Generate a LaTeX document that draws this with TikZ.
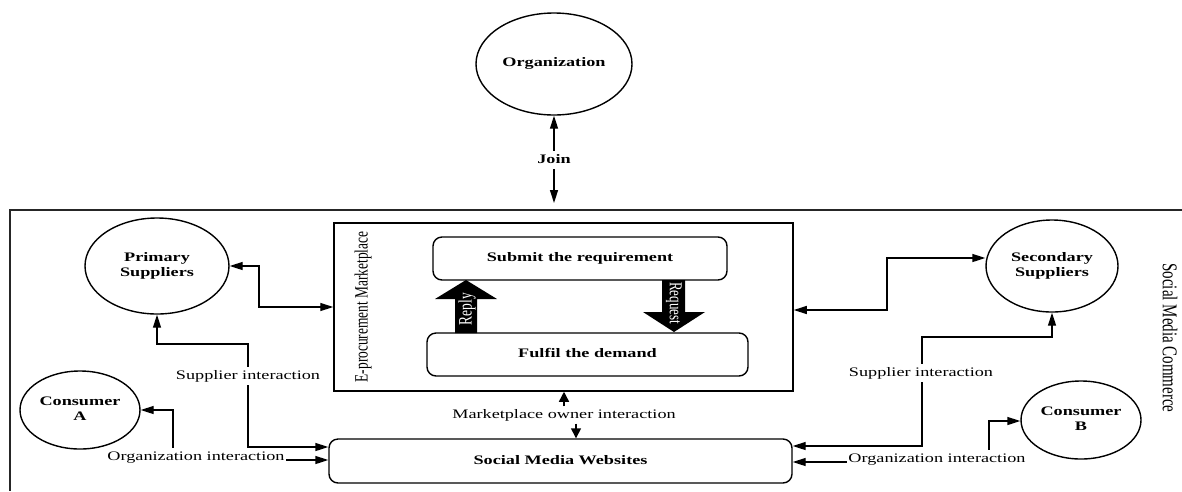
\documentclass[tikz,border=0pt]{standalone}
\usepackage{fontspec}
\setmainfont{Liberation Serif}
\usetikzlibrary{arrows.meta,shapes.geometric}
\newcommand{\st}[1]{\scalebox{1.4}[1]{\begin{tabular}{@{}c@{}}#1\end{tabular}}}
\newcommand{\sv}[1]{\scalebox{1}[1.4]{#1}}
\begin{document}
\begin{tikzpicture}[x=1pt,y=-1pt,line width=1.4pt,
  >={Triangle[length=13pt,width=8pt]},
  ell/.style={draw,ellipse,line width=1.4pt,inner sep=0pt,font=\fontsize{13}{14.5}\selectfont\bfseries},
  rbox/.style={draw,rounded corners=9pt,line width=1.4pt,inner sep=0pt,font=\fontsize{13}{15}\selectfont\bfseries},
  lab/.style={font=\fontsize{13}{15}\selectfont,fill=white,inner sep=1.5pt},
  blab/.style={font=\fontsize{13}{15}\selectfont\bfseries,fill=white,inner sep=1.5pt},
  small/.style={>={Triangle[length=10pt,width=10pt]}}
]
\useasboundingbox (0,0) rectangle (1182,491);

% outer frame (Social Media Commerce)
\draw[line width=1.5pt,black!85] (1182,210) -- (10,210) -- (10,491);
\node[rotate=-90,font=\fontsize{15}{18}\selectfont] (smc) at (1170,338) {\sv{Social Media Commerce}};

% nodes
\node[ell,minimum width=156,minimum height=102] (org) at (554,64) {\st{Organization}};
\node[ell,minimum width=144,minimum height=96] (prim) at (157,266) {\st{Primary\\Suppliers}};
\node[ell,minimum width=120,minimum height=78] (consA) at (80,410) {\st{Consumer\\A}};
\node[ell,minimum width=132,minimum height=92] (sec) at (1052,266) {\st{Secondary\\Suppliers}};
\node[ell,minimum width=120,minimum height=78] (consB) at (1081,420) {\st{Consumer\\B}};

\node[draw,line width=1.5pt,minimum width=459,minimum height=168,inner sep=0pt] (mp) at (563.5,307) {};
\node[rotate=90,font=\fontsize{13.4}{16}\selectfont] (mplab) at (363,307) {\sv{E-procurement Marketplace}};
\node[rbox,minimum width=294,minimum height=43] (sub) at (580,258.5) {\st{Submit the requirement}};
\node[rbox,minimum width=321,minimum height=43] (ful) at (587.5,354.5) {\st{Fulfil the demand}};
\node[rbox,minimum width=463,minimum height=44] (smw) at (560.5,461) {\st{Social Media Websites}};

% block arrows
\fill (455,333) -- (455,299) -- (435,299) -- (466,280) -- (497,299) -- (477,299) -- (477,333) -- cycle;
\node[rotate=90,text=white,font=\fontsize{13.5}{16}\selectfont,inner sep=0pt] (reply) at (467,309) {\sv{Reply}};
\fill (662,280) -- (685,280) -- (685,312) -- (705,312) -- (674,332) -- (643,312) -- (662,312) -- cycle;
\node[rotate=-90,text=white,font=\fontsize{13}{16}\selectfont,inner sep=0pt] (req) at (674,303) {\sv{Request}};

% connectors
\coordinate (joinend) at (554,203);
\draw[<->] (org.south) -- (joinend);
\node[blab] (join) at (554,160) {\st{Join}};

\draw[<->] (prim.east) -- (259,266) -- (259,307) -- (mp.west);
\draw[<->] (prim.south) -- (157,344) -- (248,344) -- (248,447) -- (smw.west |- 0,447);
\draw[<->] (consA.east) -- (173,410) -- (173,460) -- (smw.west |- 0,460);

\draw[<->] (mp.east |- 0,310) -- (887,310) -- (887,258) -- (sec.west |- 0,258);
\draw[<->] (smw.east |- 0,446) -- (922,446) -- (922,337) -- (sec.south |- 0,337) -- (sec.south);
\draw[<->] (smw.east |- 0,462) -- (989,462) -- (989,421) -- (consB.west |- 0,421);

\node[lab] (si1) at (248,376) {\st{Supplier interaction}};
\node[lab] (oi1) at (196,457) {\st{Organization interaction}};
\node[lab] (si2) at (921,373) {\st{Supplier interaction}};
\node[lab] (oi2) at (937,459) {\st{Organization interaction}};
\node[lab,inner sep=0.5pt] (mo) at (564,415) {\st{Marketplace owner interaction}};
\draw[->,small] (mo.north) -- (mo.north |- mp.south);
\draw[->,small] ([xshift=12pt]mo.south) -- ([xshift=12pt]mo.south |- smw.north);
\end{tikzpicture}
\end{document}
